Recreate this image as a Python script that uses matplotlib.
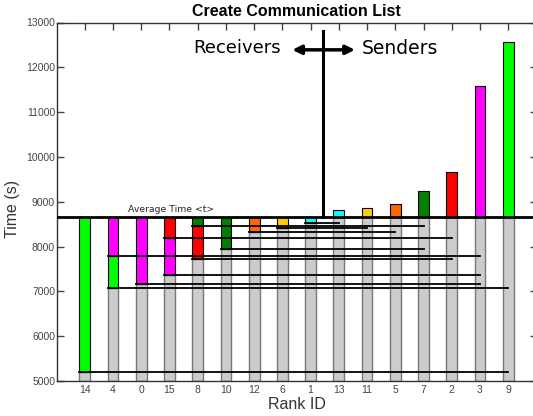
import matplotlib
matplotlib.use("Agg")
import matplotlib.pyplot as plt

# rank order along x, with each rank's time (s)
rank_ids = [14, 4, 0, 15, 8, 10, 12, 6, 1, 13, 11, 5, 7, 2, 3, 9]
rank_times = [5208, 7069, 7158, 7366, 7717, 7940, 8333, 8422, 8520,
              8817, 8855, 8951, 9248, 9672, 11578, 12560]
avg_time = 8660

# sender colours
sender_ids = [9, 3, 2, 7, 5, 11, 13]
sender_colors = ["#00ff00", "#ff00ff", "#ff0000", "#007f00", "#ff6600", "#ffcc00", "#00ffff"]

# work passed from a sender to a receiver: (receiver, sender, from, to)
seg_recv = [14, 4, 4, 0, 15, 15, 8, 8, 10, 12, 6, 1]
seg_send = [9, 9, 3, 3, 3, 2, 2, 7, 7, 5, 11, 13]
seg_low = [5208, 7069, 7797, 7158, 7366, 8199, 7717, 8467, 7940, 8333, 8422, 8520]
seg_high = [8660, 7797, 8660, 8660, 8199, 8660, 8467, 8660, 8660, 8660, 8660, 8660]

ymin, ymax = 5000, 13000
bw = 0.38

fig = plt.figure(figsize=(5.33, 4.16), dpi=100)
ax = fig.add_axes([56.5 / 533, 35 / 416, 480 / 533, 358.5 / 416])

xpos = {r: i for i, r in enumerate(rank_ids)}
col = dict(zip(sender_ids, sender_colors))

# grey base bars
for i, (r, t) in enumerate(zip(rank_ids, rank_times)):
    top = min(t, avg_time)
    ax.bar(i, top - ymin, bottom=ymin, width=bw, color="#cccccc",
           edgecolor="#777777", linewidth=1, zorder=2)
    if r in col:
        ax.bar(i, t - avg_time, bottom=avg_time, width=bw, color=col[r],
               edgecolor="black", linewidth=0.8, zorder=3)

# received pieces and the lines to their senders
for rv, sd, lo, hi in zip(seg_recv, seg_send, seg_low, seg_high):
    x = xpos[rv]
    ax.bar(x, hi - lo, bottom=lo, width=bw, color=col[sd],
           edgecolor="black", linewidth=0.8, zorder=3)
    ax.plot([x - bw / 2, xpos[sd]], [lo, lo], color="black", lw=1.3, zorder=4)

ax.axhline(avg_time, color="black", lw=2, zorder=5)
ax.text(1.55, avg_time + 60, "Average Time <t>", fontsize=6.7,
        ha="left", va="bottom", color="#222222")

# receivers / senders divider
ax.plot([8.45, 8.45], [avg_time, 12800], color="black", lw=2.2, zorder=5)
ax.annotate("", xy=(7.35, 12390), xytext=(9.57, 12390),
            arrowprops=dict(arrowstyle="<|-|>", color="black", lw=2.5,
                            mutation_scale=13, shrinkA=0, shrinkB=0))
ax.text(6.93, 12430, "Receivers", fontsize=13, ha="right", va="center")
ax.text(9.82, 12430, "Senders", fontsize=13.5, ha="left", va="center")

ax.set_xlim(-1, 16)
ax.set_ylim(ymin, ymax)
ax.set_xticks(range(len(rank_ids)))
ax.set_xticklabels([str(r) for r in rank_ids])
ax.set_yticks(range(5000, 13001, 1000))

tick_font = "Liberation Sans"
for lab in ax.get_xticklabels() + ax.get_yticklabels():
    lab.set_fontfamily(tick_font)
ax.tick_params(direction="in", length=5, width=1, colors="#444444",
               labelsize=7.5, top=True, right=True, pad=3)
ax.tick_params(axis="y", pad=1)
for s in ax.spines.values():
    s.set_color("#333333")
    s.set_linewidth(1)

ax.set_xlabel("Rank ID", fontsize=11.5, family=tick_font, color="#333333", labelpad=1.5)
ax.set_ylabel("Time (s)", fontsize=11.5, family=tick_font, color="#333333", labelpad=1)
ax.yaxis.set_label_coords(-0.075, 0.48)
ax.set_title("Create Communication List", fontsize=11.5, fontweight="bold",
             family=tick_font, pad=5)

fig.savefig("out.png", dpi=100)
